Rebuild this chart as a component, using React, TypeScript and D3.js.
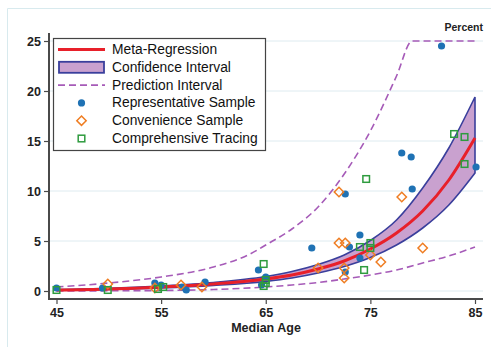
import * as d3 from "d3";
import { useEffect, useRef } from "react";

// curve readings (age -> percent)
const fitAges = [45, 50, 55, 60, 65, 67.5, 70, 72.5, 75, 77.5, 80, 82.5, 85];
const fitValues = [0.1, 0.2, 0.4, 0.7, 1.2, 1.6, 2.2, 3.0, 4.2, 5.8, 8.0, 11.1, 15.3];
const ciLower = [0.07, 0.15, 0.3, 0.55, 0.95, 1.3, 1.8, 2.45, 3.35, 4.6, 6.3, 8.6, 11.8];
const ciUpper = [0.14, 0.26, 0.5, 0.85, 1.45, 1.95, 2.65, 3.6, 5.05, 7.1, 10.3, 14.3, 19.4];

const piUpperAges = [45, 50, 55, 60, 63.5, 65, 67.5, 70, 72.5, 75, 77.5, 79, 85];
const piUpperValues = [0.4, 0.8, 1.4, 2.4, 3.7, 4.6, 6.2, 8.4, 11.7, 16.0, 21.5, 25, 25];
const piLowerAges = [45, 50, 55, 60, 65, 67.5, 70, 72.5, 75, 77.5, 80, 82.5, 85];
const piLowerValues = [0.0, 0.02, 0.05, 0.15, 0.4, 0.6, 0.85, 1.2, 1.6, 2.1, 2.8, 3.5, 4.4];

// study points
const repAges = [45, 49.4, 54.4, 55, 57, 57.4, 59.2, 64.3, 65, 64.6, 69.4, 72.6, 73, 74, 74, 72.6, 81.8, 78, 78.9, 85.1, 79];
const repValues = [0.3, 0.3, 0.8, 0.6, 0.4, 0.1, 0.9, 2.1, 1.4, 0.6, 4.3, 9.7, 4.4, 5.6, 3.3, 1.9, 24.5, 13.8, 13.4, 12.4, 10.2];
const convAges = [49.9, 54.4, 56.9, 58.9, 72, 72, 72.6, 70, 72.5, 72.5, 75, 76, 78, 80];
const convValues = [0.7, 0.3, 0.6, 0.4, 9.9, 4.8, 4.8, 2.3, 2.3, 1.3, 3.6, 2.9, 9.4, 4.3];
const compAges = [45, 49.9, 55.2, 54.7, 64.8, 65, 64.8, 65, 74.6, 74, 75, 75, 74.4, 83, 84, 84];
const compValues = [0.1, 0.1, 0.4, 0.2, 2.7, 1.1, 0.5, 0.8, 11.2, 4.4, 4.8, 4.3, 2.1, 15.7, 15.4, 12.7];

const xTicks = [45, 55, 65, 75, 85];
const yTicks = [0, 5, 10, 15, 20, 25];

const legendLabels = [
  "Meta-Regression",
  "Confidence Interval",
  "Prediction Interval",
  "Representative Sample",
  "Convenience Sample",
  "Comprehensive Tracing",
];

const colors = {
  red: "#e8202a",
  navy: "#3a3f9c",
  band: "#c9a1cf",
  dash: "#a65bb8",
  blue: "#1f72b4",
  orange: "#ef7d22",
  green: "#2e9b3e",
  grid: "#deebf0",
  axis: "#4a4a4a",
};

const App = () => {
  const svgRef = useRef<SVGSVGElement>(null);

  const renderSVG = () => {
    const dims = { width: 491, height: 347 };
    const font = "'Liberation Sans', Arial, sans-serif";

    const xScale = d3.scaleLinear([45, 85], [56.5, 475]);
    const yScale = d3.scaleLinear([0, 25], [291, 41]);

    svgRef.current!.innerHTML = "";
    const svg = d3
      .select(svgRef.current)
      .attr("width", dims.width)
      .attr("height", dims.height)
      .attr("viewBox", [0, 0, dims.width, dims.height])
      .style("position", "absolute")
      .style("left", 0)
      .style("top", 0)
      .style("background", "white");

    // outer frame
    svg.append("path").attr("d", "M7.5,347 V8.5 H491").attr("fill", "none").attr("stroke", "#d8eaee").attr("stroke-width", 1);

    // grid
    svg
      .append("g")
      .selectAll("line")
      .data(yTicks)
      .enter()
      .append("line")
      .attr("x1", 49)
      .attr("x2", 483)
      .attr("y1", (d) => yScale(d))
      .attr("y2", (d) => yScale(d))
      .attr("stroke", colors.grid)
      .attr("stroke-width", 1);

    // Y axis
    svg
      .append("g")
      .attr("transform", "translate(49,0)")
      .call(d3.axisLeft(yScale).tickValues(yTicks).tickSize(5).tickPadding(3))
      .call((g) => {
        g.select("path.domain").remove();
        g.selectAll(".tick line").attr("stroke", colors.axis).attr("stroke-width", 1.2);
        g.selectAll(".tick text")
          .attr("font-size", 12.5)
          .attr("font-family", font)
          .attr("font-weight", "bold")
          .attr("fill", "#222");
      });
    svg.append("line").attr("x1", 49).attr("x2", 49).attr("y1", 33).attr("y2", 299).attr("stroke", colors.axis).attr("stroke-width", 2);

    // X axis
    svg
      .append("g")
      .attr("transform", "translate(0,299)")
      .call(d3.axisBottom(xScale).tickValues(xTicks).tickSize(5).tickPadding(4))
      .call((g) => {
        g.select("path.domain").remove();
        g.selectAll(".tick line").attr("stroke", colors.axis).attr("stroke-width", 1.2);
        g.selectAll(".tick text")
          .attr("font-size", 12.5)
          .attr("font-family", font)
          .attr("font-weight", "bold")
          .attr("fill", "#222");
      });
    svg.append("line").attr("x1", 48).attr("x2", 483).attr("y1", 299).attr("y2", 299).attr("stroke", colors.axis).attr("stroke-width", 2);

    svg
      .append("text")
      .attr("x", 266)
      .attr("y", 332)
      .attr("text-anchor", "middle")
      .attr("font-size", 12.5)
      .attr("font-family", font)
      .attr("font-weight", "bold")
      .attr("fill", "#222")
      .text("Median Age");
    svg
      .append("text")
      .attr("x", 483)
      .attr("y", 31)
      .attr("text-anchor", "end")
      .attr("font-size", 10.5)
      .attr("font-family", font)
      .attr("font-weight", "bold")
      .attr("fill", "#222")
      .text("Percent");

    const curve = d3.curveMonotoneX;

    // confidence band
    const band = d3
      .area<number>()
      .x((d, i) => xScale(fitAges[i]))
      .y0((d, i) => yScale(ciLower[i]))
      .y1((d, i) => yScale(ciUpper[i]))
      .curve(curve);
    svg
      .append("path")
      .attr("d", band(fitAges)!)
      .attr("fill", colors.band)
      .attr("stroke", colors.navy)
      .attr("stroke-width", 1.6);

    // prediction interval
    const line = (ages: number[], vals: number[]) =>
      d3
        .line<number>()
        .x((d, i) => xScale(ages[i]))
        .y((d) => yScale(d))
        .curve(curve)(vals)!;
    [
      [piUpperAges, piUpperValues],
      [piLowerAges, piLowerValues],
    ].forEach(([a, v]) => {
      svg
        .append("path")
        .attr("d", line(a, v))
        .attr("fill", "none")
        .attr("stroke", colors.dash)
        .attr("stroke-width", 1.6)
        .attr("stroke-dasharray", "7,4");
    });

    // meta-regression
    svg
      .append("path")
      .attr("d", line(fitAges, fitValues))
      .attr("fill", "none")
      .attr("stroke", colors.red)
      .attr("stroke-width", 3);

    // points
    svg
      .append("g")
      .selectAll("circle")
      .data(repAges)
      .enter()
      .append("circle")
      .attr("cx", (d) => xScale(d))
      .attr("cy", (d, i) => yScale(repValues[i]))
      .attr("r", 3.6)
      .attr("fill", colors.blue);

    const diamond = d3.symbol(d3.symbolDiamond2, 56);
    svg
      .append("g")
      .selectAll("path")
      .data(convAges)
      .enter()
      .append("path")
      .attr("d", diamond()!)
      .attr("transform", (d, i) => `translate(${xScale(d)},${yScale(convValues[i])})`)
      .attr("fill", "none")
      .attr("stroke", colors.orange)
      .attr("stroke-width", 1.5);

    svg
      .append("g")
      .selectAll("rect")
      .data(compAges)
      .enter()
      .append("rect")
      .attr("x", (d) => xScale(d) - 3.3)
      .attr("y", (d, i) => yScale(compValues[i]) - 3.3)
      .attr("width", 6.6)
      .attr("height", 6.6)
      .attr("fill", "none")
      .attr("stroke", colors.green)
      .attr("stroke-width", 1.5);

    // legend
    const lg = svg.append("g").attr("transform", "translate(53,38)");
    lg.append("rect").attr("x", 0.5).attr("y", 0.5).attr("width", 212).attr("height", 112).attr("fill", "white").attr("stroke", "#444").attr("stroke-width", 1.2);
    const rowY = (i: number) => 11.5 + i * 17.8;
    lg.selectAll("text")
      .data(legendLabels)
      .enter()
      .append("text")
      .attr("x", 59)
      .attr("y", (d, i) => rowY(i))
      .attr("dominant-baseline", "central")
      .attr("font-size", 13.8)
      .attr("font-family", font)
      .attr("fill", "#111")
      .text((d) => d);
    lg.append("line").attr("x1", 5).attr("x2", 52).attr("y1", rowY(0)).attr("y2", rowY(0)).attr("stroke", colors.red).attr("stroke-width", 3);
    lg.append("rect").attr("x", 6).attr("y", rowY(1) - 5.5).attr("width", 45).attr("height", 11).attr("fill", colors.band).attr("stroke", colors.navy).attr("stroke-width", 1.8);
    lg.append("line").attr("x1", 5).attr("x2", 52).attr("y1", rowY(2)).attr("y2", rowY(2)).attr("stroke", colors.dash).attr("stroke-width", 1.6).attr("stroke-dasharray", "7,4");
    lg.append("circle").attr("cx", 28.5).attr("cy", rowY(3)).attr("r", 3.6).attr("fill", colors.blue);
    lg.append("path").attr("d", diamond()!).attr("transform", `translate(28.5,${rowY(4)})`).attr("fill", "none").attr("stroke", colors.orange).attr("stroke-width", 1.5);
    lg.append("rect").attr("x", 25.2).attr("y", rowY(5) - 3.3).attr("width", 6.6).attr("height", 6.6).attr("fill", "none").attr("stroke", colors.green).attr("stroke-width", 1.5);
  };

  useEffect(() => {
    renderSVG();
  });

  return <svg ref={svgRef} />;
};

export default App;
